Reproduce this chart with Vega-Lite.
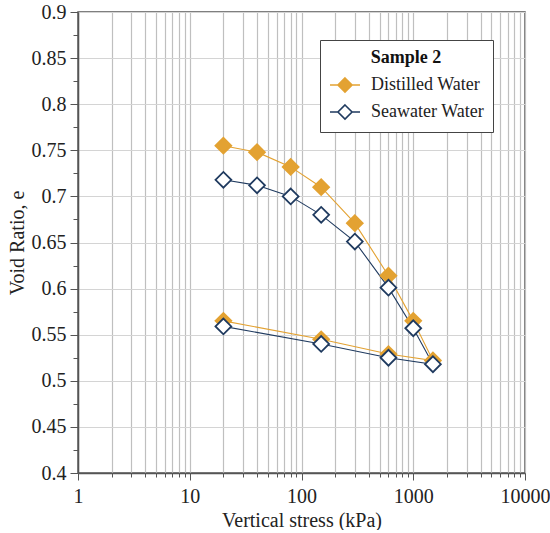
{
  "$schema": "https://vega.github.io/schema/vega-lite/v6.json",
  "width": 447,
  "height": 461,
  "padding": {"left": 7, "top": 2, "right": 18, "bottom": 0},
  "autosize": {"type": "pad"},
  "config": {
    "font": "Liberation Serif",
    "view": {"stroke": "#555555", "strokeWidth": 1.5},
    "axis": {
      "labelFont": "Liberation Serif",
      "titleFont": "Liberation Serif",
      "labelFontSize": 20,
      "titleFontSize": 20,
      "labelColor": "#222222",
      "titleColor": "#222222",
      "titleFontWeight": "normal",
      "domainColor": "#555555",
      "domainWidth": 1.5,
      "tickColor": "#555555",
      "gridWidth": 1.2
    },
    "legend": {
      "labelFont": "Liberation Serif",
      "titleFont": "Liberation Serif"
    }
  },
  "data": {
    "values": [
      {"series": "Distilled Water", "step": 1, "stress": 20, "e": 0.755},
      {"series": "Distilled Water", "step": 2, "stress": 40, "e": 0.748},
      {"series": "Distilled Water", "step": 3, "stress": 80, "e": 0.732},
      {"series": "Distilled Water", "step": 4, "stress": 150, "e": 0.710},
      {"series": "Distilled Water", "step": 5, "stress": 300, "e": 0.671},
      {"series": "Distilled Water", "step": 6, "stress": 600, "e": 0.614},
      {"series": "Distilled Water", "step": 7, "stress": 1000, "e": 0.565},
      {"series": "Distilled Water", "step": 8, "stress": 1500, "e": 0.522},
      {"series": "Distilled Water", "step": 9, "stress": 600, "e": 0.529},
      {"series": "Distilled Water", "step": 10, "stress": 150, "e": 0.545},
      {"series": "Distilled Water", "step": 11, "stress": 20, "e": 0.565},
      {"series": "Seawater Water", "step": 1, "stress": 20, "e": 0.718},
      {"series": "Seawater Water", "step": 2, "stress": 40, "e": 0.712},
      {"series": "Seawater Water", "step": 3, "stress": 80, "e": 0.700},
      {"series": "Seawater Water", "step": 4, "stress": 150, "e": 0.680},
      {"series": "Seawater Water", "step": 5, "stress": 300, "e": 0.651},
      {"series": "Seawater Water", "step": 6, "stress": 600, "e": 0.601},
      {"series": "Seawater Water", "step": 7, "stress": 1000, "e": 0.557},
      {"series": "Seawater Water", "step": 8, "stress": 1500, "e": 0.518},
      {"series": "Seawater Water", "step": 9, "stress": 600, "e": 0.525},
      {"series": "Seawater Water", "step": 10, "stress": 150, "e": 0.540},
      {"series": "Seawater Water", "step": 11, "stress": 20, "e": 0.559}
    ]
  },
  "encoding": {
    "x": {
      "field": "stress",
      "type": "quantitative",
      "scale": {"type": "log", "domain": [1, 10000], "nice": false},
      "axis": {
        "title": "Vertical stress (kPa)",
        "titlePadding": 4,
        "values": [1,2,3,4,5,6,7,8,9,10,20,30,40,50,60,70,80,90,100,200,300,400,500,600,700,800,900,1000,2000,3000,4000,5000,6000,7000,8000,9000,10000],
        "format": "d",
        "labelExpr": "indexof([1,10,100,1000,10000], datum.value) >= 0 ? datum.label : ''",
        "labelFlush": false,
        "labelOverlap": false,
        "labelPadding": 6,
        "tickSize": {"condition": {"test": "indexof([1,10,100,1000,10000], datum.value) >= 0", "value": 7}, "value": 4},
        "gridColor": "#bfbfbf",
        "grid": true
      }
    },
    "y": {
      "field": "e",
      "type": "quantitative",
      "scale": {"domain": [0.4, 0.9], "nice": false, "zero": false},
      "axis": {
        "title": "Void Ratio, e",
        "titlePadding": 4,
        "values": [0.4,0.425,0.45,0.475,0.5,0.525,0.55,0.575,0.6,0.625,0.65,0.675,0.7,0.725,0.75,0.775,0.8,0.825,0.85,0.875,0.9],
        "labelExpr": "abs(round(datum.value*20) - datum.value*20) < 0.001 ? format(datum.value, '~g') : ''",
        "labelOverlap": false,
        "labelPadding": 4,
        "tickSize": {"condition": {"test": "abs(round(datum.value*20) - datum.value*20) < 0.001", "value": 8}, "value": 5},
        "gridColor": "#d4d4d4",
        "gridOpacity": {"condition": {"test": "abs(round(datum.value*20) - datum.value*20) < 0.001", "value": 1}, "value": 0},
        "grid": true
      }
    }
  },
  "layer": [
    {
      "mark": {"type": "line", "strokeWidth": 1.1},
      "encoding": {
        "order": {"field": "step", "type": "quantitative"},
        "color": {
          "field": "series",
          "type": "nominal",
          "scale": {"domain": ["Distilled Water", "Seawater Water"], "range": ["#E3A232", "#1F3A5F"]}
        }
      }
    },
    {
      "mark": {"type": "point", "shape": "diamond", "size": 250, "strokeWidth": 1.8, "filled": false, "opacity": 1},
      "encoding": {
        "color": {
          "field": "series",
          "type": "nominal",
          "scale": {"domain": ["Distilled Water", "Seawater Water"], "range": ["#E3A232", "#1F3A5F"]},
          "legend": {
            "title": "Sample 2",
            "orient": "none",
            "legendX": 242,
            "legendY": 28,
            "titleFontSize": 18,
            "titleFontWeight": "bold",
            "titleColor": "#111111",
            "titleAnchor": "middle",
            "titlePadding": 2,
            "labelFontSize": 18,
            "labelColor": "#222222",
            "labelOffset": 10,
            "symbolType": "M-1,0L-0.47,0M0.47,0L1,0M0,-0.47L0.47,0L0,0.47L-0.47,0Z",
            "symbolSize": 900,
            "symbolStrokeWidth": 1.6,
            "rowPadding": -6,
            "padding": 9,
            "strokeColor": "#444444",
            "fillColor": "white",
            "cornerRadius": 0
          }
        },
        "fill": {
          "field": "series",
          "type": "nominal",
          "scale": {"domain": ["Distilled Water", "Seawater Water"], "range": ["#E3A232", "white"]},
          "legend": {
            "title": "Sample 2",
            "orient": "none",
            "legendX": 242,
            "legendY": 28,
            "titleFontSize": 18,
            "titleFontWeight": "bold",
            "titleColor": "#111111",
            "titleAnchor": "middle",
            "titlePadding": 2,
            "labelFontSize": 18,
            "labelColor": "#222222",
            "labelOffset": 10,
            "symbolType": "M-1,0L-0.47,0M0.47,0L1,0M0,-0.47L0.47,0L0,0.47L-0.47,0Z",
            "symbolSize": 900,
            "symbolStrokeWidth": 1.6,
            "rowPadding": -6,
            "padding": 9,
            "strokeColor": "#444444",
            "fillColor": "white",
            "cornerRadius": 0
          }
        }
      }
    }
  ]
}
